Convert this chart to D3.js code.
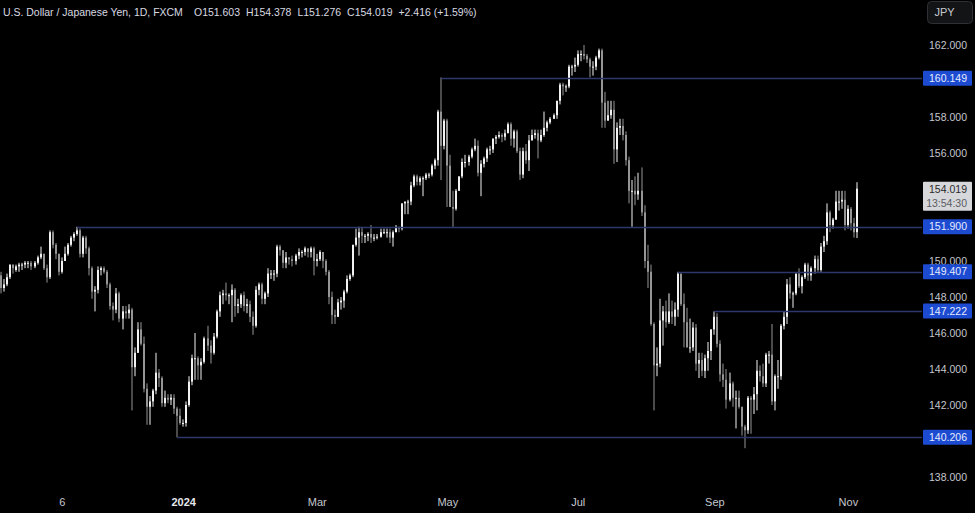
<!DOCTYPE html>
<html><head><meta charset="utf-8">
<script src="https://cdn.jsdelivr.net/npm/d3@7"></script>
<style>html,body{margin:0;padding:0;background:#000;overflow:hidden}svg{display:block}</style>
</head><body><svg id="c" width="975" height="513"></svg>
<script>
// ---- DATA ----
const bars = [
["2023-10-09",149.2,149.4,148.2,148.5],["2023-10-10",148.5,149.0,148.3,148.7],["2023-10-11",148.7,149.3,148.6,149.1],
["2023-10-12",149.1,149.8,149.0,149.8],["2023-10-13",149.8,149.8,149.3,149.6],["2023-10-16",149.5,149.8,149.4,149.7],
["2023-10-17",149.7,149.9,149.4,149.8],["2023-10-18",149.8,149.9,149.5,149.8],["2023-10-19",149.8,150.0,149.6,149.9],
["2023-10-20",149.9,150.0,149.6,149.9],["2023-10-23",149.9,150.0,149.5,149.7],["2023-10-24",149.7,150.0,149.6,149.9],
["2023-10-25",149.9,150.3,149.8,150.2],["2023-10-26",150.2,150.8,150.1,150.4],["2023-10-27",150.4,150.4,149.5,149.6],
["2023-10-30",149.6,149.8,148.8,149.1],["2023-10-31",149.1,151.7,149.0,151.6],["2023-11-01",151.6,151.7,150.7,150.9],
["2023-11-02",150.9,151.0,150.1,150.4],["2023-11-03",150.4,150.4,149.2,149.4],["2023-11-06",149.4,150.2,149.3,150.0],
["2023-11-07",150.0,150.8,150.0,150.4],["2023-11-08",150.4,151.0,150.3,150.9],["2023-11-09",150.9,151.4,150.8,151.3],
["2023-11-10",151.3,151.6,151.1,151.5],["2023-11-13",151.5,151.9,151.4,151.7],["2023-11-14",151.7,151.8,150.2,150.4],
["2023-11-15",150.4,151.4,150.2,151.3],["2023-11-16",151.3,151.4,150.4,150.7],["2023-11-17",150.7,150.8,149.2,149.6],
["2023-11-20",149.6,149.7,147.9,148.3],["2023-11-21",148.3,148.6,147.2,148.4],["2023-11-22",148.4,149.7,148.2,149.5],
["2023-11-23",149.5,149.7,149.2,149.6],["2023-11-24",149.6,149.7,149.3,149.4],["2023-11-27",149.4,149.5,148.5,148.7],
["2023-11-28",148.7,148.8,147.3,147.5],["2023-11-29",147.5,147.7,146.7,147.3],["2023-11-30",147.3,148.5,147.1,148.2],
["2023-12-01",148.2,148.3,146.6,146.8],["2023-12-04",146.8,147.5,146.2,147.2],["2023-12-05",147.2,147.5,146.8,147.1],
["2023-12-06",147.1,147.6,146.8,147.3],["2023-12-07",147.3,147.4,141.7,144.1],["2023-12-08",144.1,145.2,143.6,144.9],
["2023-12-11",144.9,146.6,144.9,146.2],["2023-12-12",146.2,146.6,145.3,145.4],["2023-12-13",145.4,145.8,142.7,142.9],
["2023-12-14",142.9,143.2,140.9,141.9],["2023-12-15",141.9,142.5,140.9,142.2],["2023-12-18",142.2,142.9,141.9,142.8],
["2023-12-19",142.8,144.9,142.6,143.8],["2023-12-20",143.8,144.0,143.0,143.5],["2023-12-21",143.5,143.6,141.9,142.1],
["2023-12-22",142.1,142.8,141.9,142.4],["2023-12-25",142.4,142.6,142.1,142.3],["2023-12-26",142.3,142.6,142.0,142.4],
["2023-12-27",142.4,142.6,141.5,141.8],["2023-12-28",141.8,141.9,140.2,141.4],["2023-12-29",141.4,141.8,140.9,141.0],
["2024-01-01",141.0,141.2,140.8,141.0],["2024-01-02",141.0,142.2,140.8,142.0],["2024-01-03",142.0,143.6,141.9,143.3],
["2024-01-04",143.3,144.8,143.1,144.6],["2024-01-05",144.6,146.0,143.4,144.6],["2024-01-08",144.6,144.7,143.4,144.2],
["2024-01-09",144.2,144.6,143.4,144.4],["2024-01-10",144.4,145.8,144.3,145.7],["2024-01-11",145.7,146.4,145.0,145.3],
["2024-01-12",145.3,145.6,144.3,144.9],["2024-01-15",144.9,146.0,144.8,145.8],["2024-01-16",145.8,147.3,145.7,147.2],
["2024-01-17",147.2,148.3,146.9,148.1],["2024-01-18",148.1,148.4,147.6,148.2],["2024-01-19",148.2,148.8,147.8,148.1],
["2024-01-22",148.1,148.2,147.6,148.1],["2024-01-23",148.1,148.7,146.6,148.4],["2024-01-24",148.4,148.5,146.9,147.5],
["2024-01-25",147.5,147.9,147.1,147.6],["2024-01-26",147.6,148.2,147.4,148.1],["2024-01-29",148.1,148.3,147.2,147.5],
["2024-01-30",147.5,147.9,147.1,147.6],["2024-01-31",147.6,147.8,146.6,146.9],["2024-02-01",146.9,147.2,145.9,146.4],
["2024-02-02",146.4,148.6,146.3,148.4],["2024-02-05",148.4,148.8,148.1,148.7],["2024-02-06",148.7,148.8,147.6,147.9],
["2024-02-07",147.9,148.3,147.6,148.2],["2024-02-08",148.2,149.6,148.0,149.3],["2024-02-09",149.3,149.5,149.0,149.3],
["2024-02-12",149.3,149.5,148.9,149.3],["2024-02-13",149.3,150.9,149.1,150.8],["2024-02-14",150.8,150.9,150.3,150.6],
["2024-02-15",150.6,150.6,149.6,149.9],["2024-02-16",149.9,150.5,149.6,150.2],["2024-02-19",150.2,150.2,149.8,150.1],
["2024-02-20",150.1,150.3,149.7,150.0],["2024-02-21",150.0,150.4,149.8,150.3],["2024-02-22",150.3,150.7,150.1,150.5],
["2024-02-23",150.5,150.6,150.2,150.5],["2024-02-26",150.5,150.8,150.3,150.7],["2024-02-27",150.7,150.7,150.2,150.5],
["2024-02-28",150.5,150.8,150.2,150.7],["2024-02-29",150.7,150.8,149.2,150.0],["2024-03-01",150.0,150.4,149.7,150.1],
["2024-03-04",150.1,150.6,150.0,150.5],["2024-03-05",150.5,150.5,149.6,150.0],["2024-03-06",150.0,150.1,149.2,149.4],
["2024-03-07",149.4,149.5,147.6,148.0],["2024-03-08",148.0,148.3,146.5,147.0],["2024-03-11",147.0,147.3,146.5,146.9],
["2024-03-12",146.9,147.9,146.9,147.7],["2024-03-13",147.7,148.0,147.3,147.8],["2024-03-14",147.8,148.4,147.4,148.3],
["2024-03-15",148.3,149.2,148.2,149.0],["2024-03-18",149.0,149.3,148.9,149.2],["2024-03-19",149.2,150.9,149.1,150.9],
["2024-03-20",150.9,151.8,150.8,151.3],["2024-03-21",151.3,151.9,150.3,151.6],["2024-03-22",151.6,151.9,151.0,151.4],
["2024-03-25",151.4,151.5,151.0,151.4],["2024-03-26",151.4,151.6,151.1,151.5],["2024-03-27",151.5,152.0,151.0,151.3],
["2024-03-28",151.3,151.5,151.1,151.3],["2024-03-29",151.3,151.5,151.2,151.35],["2024-04-01",151.35,151.8,151.3,151.6],
["2024-04-02",151.6,151.8,151.5,151.6],["2024-04-03",151.6,151.8,151.3,151.6],["2024-04-04",151.6,151.8,151.0,151.3],
["2024-04-05",151.3,151.7,150.8,151.6],["2024-04-08",151.6,152.0,151.6,151.9],["2024-04-09",151.9,151.9,151.6,151.8],
["2024-04-10",151.8,153.2,151.7,153.2],["2024-04-11",153.2,153.3,152.6,153.3],["2024-04-12",153.3,153.4,152.6,153.3],
["2024-04-15",153.3,154.4,153.1,154.2],["2024-04-16",154.2,154.8,154.1,154.7],["2024-04-17",154.7,154.8,154.2,154.4],
["2024-04-18",154.4,154.7,154.2,154.6],["2024-04-19",154.6,154.7,153.6,154.6],["2024-04-22",154.6,154.9,154.5,154.8],
["2024-04-23",154.8,154.9,154.6,154.8],["2024-04-24",154.8,155.4,154.7,155.3],["2024-04-25",155.3,155.7,155.1,155.6],
["2024-04-26",155.6,158.4,155.3,158.3],["2024-04-29",158.3,160.2,154.5,156.4],["2024-04-30",156.4,157.9,156.2,157.8],
["2024-05-01",157.8,157.9,153.0,155.3],["2024-05-02",155.3,155.9,153.0,153.0],["2024-05-03",153.0,153.9,151.9,152.9],
["2024-05-06",152.9,154.0,152.8,153.9],["2024-05-07",153.9,154.7,153.9,154.7],["2024-05-08",154.7,155.7,154.6,155.5],
["2024-05-09",155.5,155.9,155.2,155.5],["2024-05-10",155.5,155.9,155.3,155.8],["2024-05-13",155.8,156.3,155.7,156.2],
["2024-05-14",156.2,156.8,156.1,156.4],["2024-05-15",156.4,156.7,154.7,154.9],["2024-05-16",154.9,155.6,153.6,155.4],
["2024-05-17",155.4,155.8,155.2,155.7],["2024-05-20",155.7,156.3,155.5,156.2],["2024-05-21",156.2,156.4,155.9,156.2],
["2024-05-22",156.2,156.8,156.0,156.8],["2024-05-23",156.8,157.0,156.5,156.9],["2024-05-24",156.9,157.2,156.8,157.0],
["2024-05-27",157.0,157.1,156.6,156.9],["2024-05-28",156.9,157.3,156.7,157.1],["2024-05-29",157.1,157.7,157.1,157.6],
["2024-05-30",157.6,157.7,156.4,156.8],["2024-05-31",156.8,157.3,156.3,157.2],["2024-06-03",157.2,157.3,156.0,156.1],
["2024-06-04",156.1,156.3,154.5,154.8],["2024-06-05",154.8,156.3,154.6,156.1],["2024-06-06",156.1,156.5,155.4,155.6],
["2024-06-07",155.6,157.0,155.0,156.7],["2024-06-10",156.7,157.3,156.7,157.0],["2024-06-11",157.0,157.3,156.8,157.1],
["2024-06-12",157.1,157.3,155.7,156.7],["2024-06-13",156.7,157.3,156.6,157.0],["2024-06-14",157.0,158.3,156.9,157.4],
["2024-06-17",157.4,157.8,157.2,157.7],["2024-06-18",157.7,158.0,157.6,157.9],["2024-06-19",157.9,158.2,157.9,158.1],
["2024-06-20",158.1,158.9,157.9,158.9],["2024-06-21",158.9,159.9,158.7,159.8],["2024-06-24",159.8,159.9,159.2,159.7],
["2024-06-25",159.7,159.8,159.4,159.7],["2024-06-26",159.7,160.9,159.6,160.8],["2024-06-27",160.8,160.9,160.3,160.8],
["2024-06-28",160.8,161.3,160.5,160.9],["2024-07-01",160.9,161.7,160.8,161.5],["2024-07-02",161.5,161.7,161.1,161.5],
["2024-07-03",161.5,162.0,161.2,161.4],["2024-07-04",161.4,161.5,161.0,161.2],["2024-07-05",161.2,161.3,160.2,160.8],
["2024-07-08",160.8,161.1,160.3,160.8],["2024-07-09",160.8,161.4,160.6,161.3],["2024-07-10",161.3,161.8,161.2,161.7],
["2024-07-11",161.7,161.8,157.4,158.8],["2024-07-12",158.8,159.4,157.4,157.8],["2024-07-15",157.8,158.9,157.8,158.1],
["2024-07-16",158.1,158.9,157.9,158.4],["2024-07-17",158.4,158.9,155.4,156.2],["2024-07-18",156.2,157.7,155.5,157.4],
["2024-07-19",157.4,157.9,157.0,157.5],["2024-07-22",157.5,157.9,156.7,157.0],["2024-07-23",157.0,157.2,155.3,155.6],
["2024-07-24",155.6,155.8,153.2,153.9],["2024-07-25",153.9,154.5,151.9,153.9],["2024-07-26",153.9,154.7,153.1,153.7],
["2024-07-29",153.7,154.9,153.4,153.9],["2024-07-30",153.9,155.2,152.5,152.7],["2024-07-31",152.7,153.1,149.6,150.0],
["2024-08-01",150.0,150.9,148.5,149.4],["2024-08-02",149.4,149.8,146.4,146.5],["2024-08-05",146.5,146.6,141.7,144.2],
["2024-08-06",144.2,145.2,143.6,144.3],["2024-08-07",144.3,147.9,144.1,146.7],["2024-08-08",146.7,147.5,145.3,147.2],
["2024-08-09",147.2,147.8,146.3,146.6],["2024-08-12",146.6,148.2,146.5,147.2],["2024-08-13",147.2,147.8,146.5,146.9],
["2024-08-14",146.9,147.7,146.4,147.3],["2024-08-15",147.3,149.4,146.9,149.3],["2024-08-16",149.3,149.3,147.5,147.6],
["2024-08-19",147.6,148.2,145.2,146.6],["2024-08-20",146.6,147.4,145.2,145.2],["2024-08-21",145.2,146.8,144.9,145.2],
["2024-08-22",145.2,146.6,145.0,146.3],["2024-08-23",146.3,146.5,143.9,144.3],["2024-08-26",144.3,144.9,143.5,144.5],
["2024-08-27",144.5,144.9,143.6,143.9],["2024-08-28",143.9,144.8,143.5,144.6],["2024-08-29",144.6,145.5,143.9,145.0],
["2024-08-30",145.0,146.2,144.5,146.2],["2024-09-02",146.2,147.2,145.9,146.9],["2024-09-03",146.9,147.1,145.2,145.4],
["2024-09-04",145.4,145.6,143.3,143.7],["2024-09-05",143.7,144.3,143.0,143.4],["2024-09-06",143.4,144.0,141.8,142.3],
["2024-09-09",142.3,143.8,142.2,143.2],["2024-09-10",143.2,143.3,141.9,142.4],["2024-09-11",142.4,142.8,140.7,142.4],
["2024-09-12",142.4,142.8,141.8,141.9],["2024-09-13",141.9,141.9,140.3,140.8],["2024-09-16",140.8,140.9,139.6,140.6],
["2024-09-17",140.6,142.5,140.4,142.4],["2024-09-18",142.4,142.5,140.4,142.3],["2024-09-19",142.3,143.0,141.5,142.6],
["2024-09-20",142.6,144.5,141.7,143.9],["2024-09-23",143.9,144.2,143.3,143.6],["2024-09-24",143.6,144.3,143.0,143.2],
["2024-09-25",143.2,144.9,143.0,144.8],["2024-09-26",144.8,145.0,144.3,144.8],["2024-09-27",144.8,146.5,142.0,142.2],
["2024-09-30",142.2,143.7,141.7,143.6],["2024-10-01",143.6,144.5,142.9,143.6],["2024-10-02",143.6,146.5,143.4,146.4],
["2024-10-03",146.4,147.2,146.2,146.9],["2024-10-04",146.9,149.0,146.5,148.7],["2024-10-07",148.7,149.1,147.9,148.2],
["2024-10-08",148.2,148.3,147.4,148.2],["2024-10-09",148.2,149.3,148.1,149.3],["2024-10-10",149.3,149.6,148.5,148.6],
["2024-10-11",148.6,149.2,148.2,149.1],["2024-10-14",149.1,149.9,149.0,149.8],["2024-10-15",149.8,149.9,148.9,149.2],
["2024-10-16",149.2,149.7,148.9,149.6],["2024-10-17",149.6,150.3,149.3,150.1],["2024-10-18",150.1,150.3,149.4,149.5],
["2024-10-21",149.5,151.0,149.4,150.8],["2024-10-22",150.8,151.4,150.5,151.1],["2024-10-23",151.1,153.2,150.9,152.7],
["2024-10-24",152.7,152.8,151.6,152.0],["2024-10-25",152.0,152.4,151.8,152.3],["2024-10-28",152.3,153.9,152.3,153.3],
["2024-10-29",153.3,153.9,152.8,153.3],["2024-10-30",153.3,153.9,152.9,153.4],["2024-10-31",153.4,153.9,151.7,152.0],
["2024-11-01",152.0,153.1,151.8,152.9],["2024-11-04",152.9,153.0,151.7,152.1],["2024-11-05",152.1,152.4,151.3,151.6],
["2024-11-06",151.603,154.378,151.276,154.019]
];
const levelValues = [160.149, 151.900, 149.407, 147.222, 140.206];
const levelStartDates = ["2024-04-29", "2023-11-13", "2024-08-15", "2024-09-02", "2023-12-28"];
const priceTicks = [138, 140, 142, 144, 146, 148, 150, 152, 154, 156, 158, 160, 162];
const timeTickDates = ["2023-11-06", "2024-01-01", "2024-03-01", "2024-05-01", "2024-07-01", "2024-09-02", "2024-11-01"];
const timeTickLabels = ["6", "2024", "Mar", "May", "Jul", "Sep", "Nov"];
const headerParts = ["U.S. Dollar / Japanese Yen, 1D, FXCM", "O151.603", "H154.378", "L151.276", "C154.019", "+2.416 (+1.59%)"];
const lastPrice = 154.019;
const countdown = "13:54:30";
const currency = "JPY";

// ---- LAYOUT ----
const W = 975, H = 513;
const plotRight = 922;
const barStep = 3.035, lastBarX = 857;
const svg = d3.select("#c");
svg.append("rect").attr("width", W).attr("height", H).attr("fill", "#000");

const dates = bars.map(d => d[0]);
const x = d3.scalePoint().domain(dates)
  .range([lastBarX - (dates.length - 1) * barStep, lastBarX]);
const y = d3.scaleLinear().domain([138, 162]).range([477, 45]);

const upCol = "#f2f2f2", dnCol = "#959595";
const font = "'Liberation Sans', Arial, sans-serif";

// candles
const g = svg.append("g");
const cx = d => Math.round(x(d[0]));
g.selectAll("rect.w").data(bars).join("rect").attr("class", "w")
  .attr("x", d => cx(d) - 0.5).attr("width", 1)
  .attr("y", d => y(d[2])).attr("height", d => Math.max(1, y(d[3]) - y(d[2])))
  .attr("fill", d => d[4] >= d[1] ? upCol : dnCol);
g.selectAll("rect.b").data(bars).join("rect").attr("class", "b")
  .attr("x", d => cx(d) - 1).attr("width", 2)
  .attr("y", d => y(Math.max(d[1], d[4])))
  .attr("height", d => Math.max(1, Math.abs(y(d[1]) - y(d[4]))))
  .attr("fill", d => d[4] >= d[1] ? upCol : dnCol);

// levels
const levels = levelValues.map((v, i) => ({v, start: levelStartDates[i]}));
svg.append("g").selectAll("line").data(levels).join("line")
  .attr("x1", d => x(d.start)).attr("x2", plotRight)
  .attr("y1", d => Math.round(y(d.v)) + 0.5).attr("y2", d => Math.round(y(d.v)) + 0.5)
  .attr("stroke", "#2c376b").attr("stroke-width", 1.3);

// price axis
const boxH = 15;
const lastTop = y(lastPrice) - 7, lastBot = lastTop + 29;
const hidden = t => {
  const ty = y(t);
  if (ty >= lastTop - 1 && ty <= lastBot + 1) return true;
  return levelValues.some(v => Math.abs(y(v) - ty) <= boxH / 2);
};
const yAxis = d3.axisRight(y).tickValues(priceTicks.filter(t => !hidden(t)))
  .tickSize(0).tickPadding(0).tickFormat(d3.format(".3f"));
const ya = svg.append("g").attr("transform", `translate(967,0)`).call(yAxis);
ya.select(".domain").remove();
ya.selectAll("text").attr("text-anchor", "end").attr("fill", "#c4c7cf")
  .attr("font-family", font).attr("font-size", 10.5).attr("dx", 0);

// level labels
const lg = svg.append("g").selectAll("g").data(levels).join("g")
  .attr("transform", d => `translate(923,${y(d.v) - boxH / 2})`);
lg.append("rect").attr("width", 49).attr("height", boxH).attr("rx", 1).attr("fill", "#1c4bd1");
lg.append("text").attr("x", 44).attr("y", boxH / 2).attr("dy", "0.35em")
  .attr("text-anchor", "end").attr("fill", "#e6ebff")
  .attr("font-family", font).attr("font-size", 10.5).text(d => d.v.toFixed(3));

// last price label
const lp = svg.append("g").attr("transform", `translate(923,${lastTop})`);
lp.append("rect").attr("width", 49).attr("height", 29).attr("rx", 1).attr("fill", "#d6d7db");
lp.append("text").attr("x", 44).attr("y", 7.5).attr("dy", "0.35em").attr("text-anchor", "end")
  .attr("fill", "#2a2a2a").attr("font-family", font).attr("font-size", 10.5).text(lastPrice.toFixed(3));
lp.append("text").attr("x", 44).attr("y", 21.5).attr("dy", "0.35em").attr("text-anchor", "end")
  .attr("fill", "#5a5c62").attr("font-family", font).attr("font-size", 10.5).text(countdown);

// time axis
const xAxis = d3.axisBottom(x).tickValues(timeTickDates).tickSize(0).tickPadding(0)
  .tickFormat(d => timeTickLabels[timeTickDates.indexOf(d)]);
const xa = svg.append("g").attr("transform", "translate(0,498)").call(xAxis);
xa.select(".domain").remove();
xa.selectAll("text").attr("font-family", font).attr("font-size", 11)
  .attr("font-weight", d => d.startsWith("2024-01") ? "bold" : "normal")
  .attr("fill", d => d.startsWith("2024-01") ? "#e6e8ee" : "#c4c7cf");

// header: one font size fitted to the title width, parts placed left to right
const hx = [3, 194, 245, 295, 343, 393];
const ht = svg.append("g").selectAll("text").data(headerParts).join("text")
  .attr("y", 15.5).attr("fill", "#d8dae0").attr("font-family", font).attr("font-size", 12).text(d => d);
const titleW = ht.nodes()[0].getComputedTextLength();
const fs = Math.min(12, 12 * 180 / titleW);
ht.attr("font-size", fs);
let prevEnd = -Infinity;
ht.each(function(d, i) {
  const px = Math.max(hx[i], prevEnd + 6);
  d3.select(this).attr("x", px);
  prevEnd = px + this.getComputedTextLength();
});

// currency box
const cb = svg.append("g").attr("transform", "translate(927.5,1.5)");
cb.append("rect").attr("width", 45).attr("height", 22).attr("rx", 4)
  .attr("fill", "#131416").attr("stroke", "#2e3035");
cb.append("text").attr("x", 17).attr("y", 11).attr("dy", "0.36em").attr("text-anchor", "middle")
  .attr("fill", "#c8cad0").attr("font-family", font).attr("font-size", 11).text(currency);
</script></body></html>
